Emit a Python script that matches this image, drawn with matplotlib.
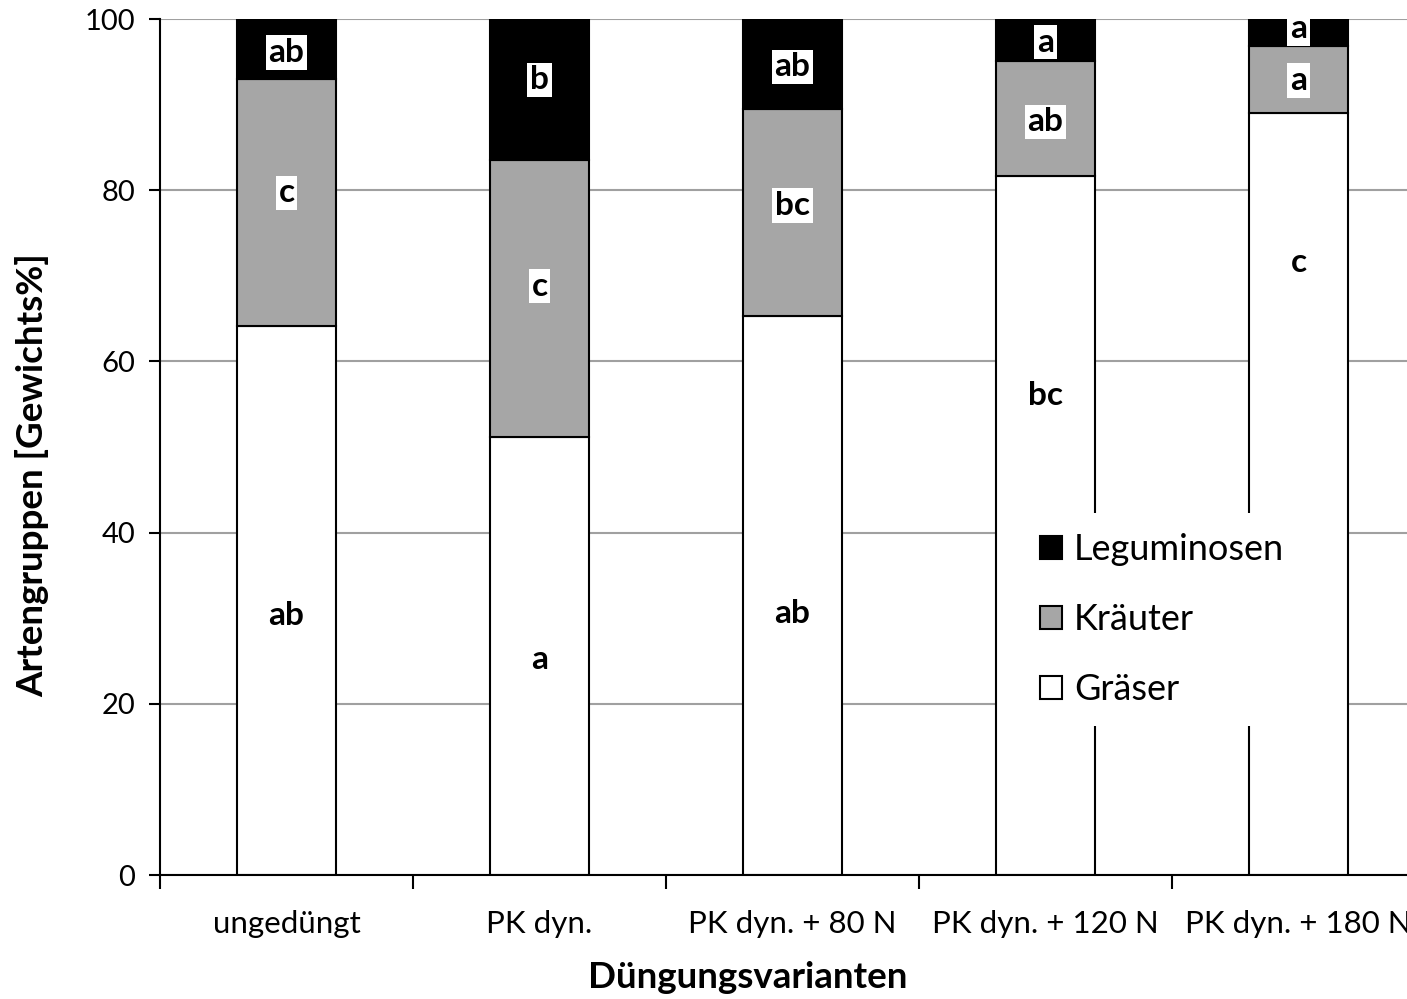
import numpy as np
import matplotlib
matplotlib.use("Agg")
import matplotlib.pyplot as plt

plt.rcParams['font.family'] = ['Lato', 'DejaVu Sans']

# data
varianten = ["ungedüngt", "PK dyn.", "PK dyn. + 80 N", "PK dyn. + 120 N", "PK dyn. + 180 N"]
graeser = [64.1, 51.2, 65.3, 81.7, 89.0]
kraeuter = [28.9, 32.3, 24.2, 13.4, 7.8]
leguminosen = [7.0, 16.5, 10.5, 4.9, 3.2]

# significance letters
sig_g = ["ab", "a", "ab", "bc", "c"]
sig_k = ["c", "c", "bc", "ab", "a"]
sig_l = ["ab", "b", "ab", "a", "a"]
# label heights
ypos_g = [30.3, 25.2, 30.6, 56.0, 71.5]
ypos_k = [79.7, 68.8, 78.2, 88.0, 92.8]
ypos_l = [96.1, 92.9, 94.4, 97.3, 98.9]

fig = plt.figure(figsize=(14.07, 9.99), dpi=100)
ax = fig.add_axes([160/1407, 124/999, 1265/1407, 856/999])

x = np.arange(len(varianten))
w = 0.395
g = np.array(graeser)
k = np.array(kraeuter)
l = np.array(leguminosen)

ax.bar(x, g, w, color="white", edgecolor="black", linewidth=1.5, label="Gräser", zorder=2)
ax.bar(x, k, w, bottom=g, color="#a6a6a6", edgecolor="black", linewidth=1.5, label="Kräuter", zorder=2)
ax.bar(x, l, w, bottom=g + k, color="black", edgecolor="black", linewidth=1.5, label="Leguminosen", zorder=2)

box = dict(facecolor="white", edgecolor="none", pad=2)
for i in range(len(varianten)):
    ax.text(x[i], ypos_g[i], sig_g[i], ha="center", va="center", fontsize=24, fontweight="bold", bbox=box, zorder=3)
    ax.text(x[i], ypos_k[i], sig_k[i], ha="center", va="center", fontsize=24, fontweight="bold", bbox=box, zorder=3)
    ax.text(x[i], ypos_l[i], sig_l[i], ha="center", va="center", fontsize=24, fontweight="bold", bbox=box, zorder=3)

ax.set_xlim(-0.5, len(varianten) - 0.5)
ax.set_ylim(0, 100)
ax.set_yticks(range(0, 101, 20))
ax.yaxis.grid(True, color="#a0a0a0", linewidth=1.5, zorder=0)
ax.set_axisbelow(True)

ax.set_xticks(x)
ax.set_xticklabels(varianten, fontsize=22.5)
ax.set_xticks(np.arange(-0.5, len(varianten)), minor=True)
ax.tick_params(axis="x", which="major", length=0, pad=25)
ax.tick_params(axis="x", which="minor", length=10, width=1.5, direction="out")
ax.tick_params(axis="y", length=8, width=1.5, labelsize=21, pad=10)

for s in ["top", "right"]:
    ax.spines[s].set_visible(False)
ax.spines["left"].set_linewidth(1.5)
ax.spines["bottom"].set_linewidth(1.5)

fig.text(32/1407, 1 - 475/999, "Artengruppen [Gewichts%]", rotation=90, ha="center", va="center",
         fontsize=26.5, fontweight="bold")
fig.text(748/1407, 1 - 978/999, "Düngungsvarianten", ha="center", va="center",
         fontsize=26.5, fontweight="bold")

handles, labels = ax.get_legend_handles_labels()
leg = ax.legend(handles[::-1], labels[::-1], loc="upper left",
                bbox_to_anchor=((1020-160)/1265, (875-513)/856),
                fontsize=26, frameon=True, facecolor="white", edgecolor="none", framealpha=1,
                handlelength=0.6, handleheight=0.6, handletextpad=0.35, labelspacing=1.03,
                borderpad=0.55, borderaxespad=0)
leg.set_zorder(5)

fig.savefig("out.png", dpi=100)
